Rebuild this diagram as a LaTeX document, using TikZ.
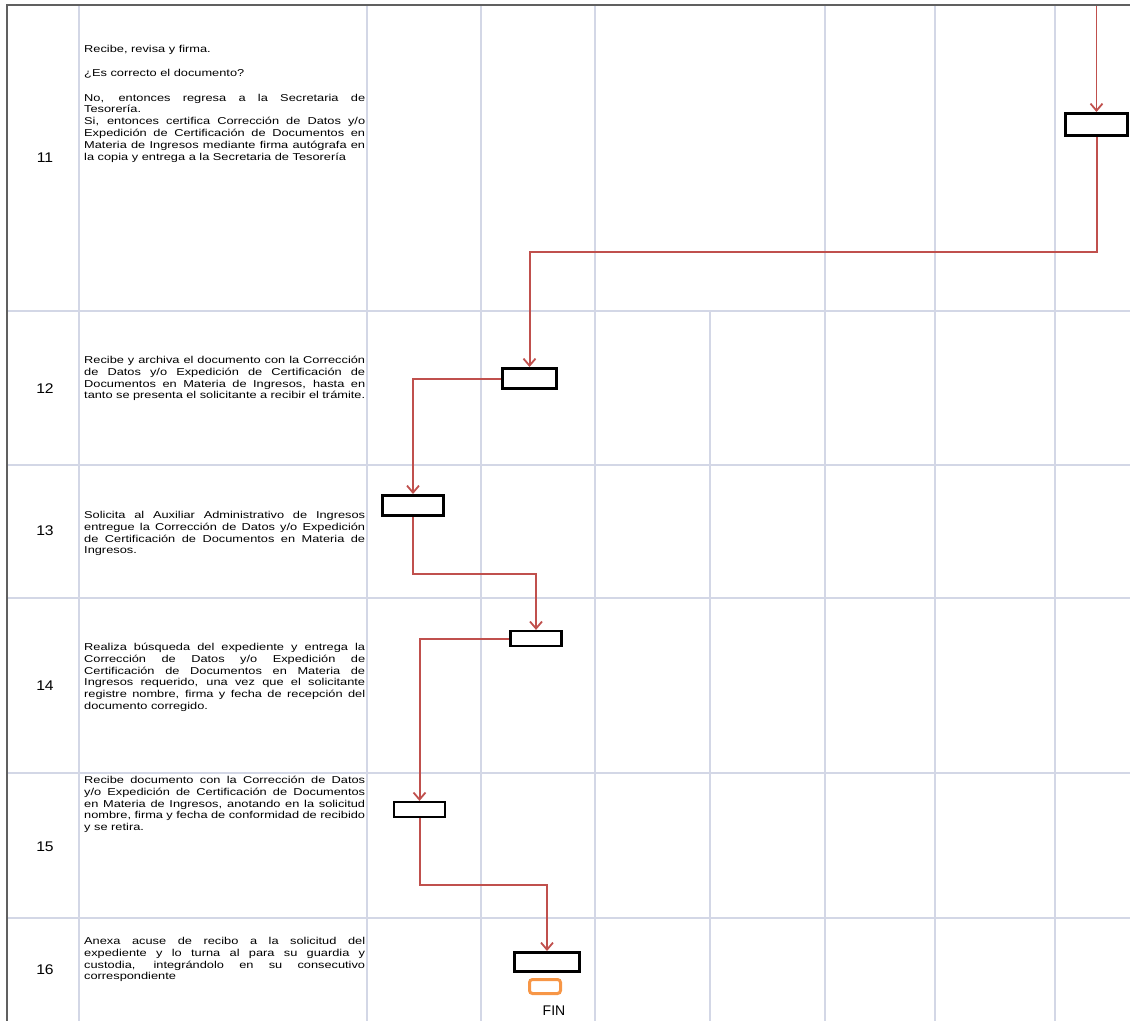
\documentclass[tikz,border=0pt]{standalone}
\usepackage{fontspec}
\setmainfont{Liberation Sans}
\usepackage{tikz}
\usetikzlibrary{arrows.meta}

\definecolor{rejilla}{RGB}{211,215,230}
\definecolor{rojoFlecha}{RGB}{192,80,77}
\definecolor{naranjaFin}{RGB}{247,150,70}
\definecolor{borde}{RGB}{96,96,96}

\newcommand{\textoFila}[1]{\scalebox{1.28}[1]{\parbox[t]{219.5pt}{\fontsize{10}{11.8}\selectfont
    \hyphenpenalty=10000\exhyphenpenalty=10000\relax #1}}}

\begin{document}
\begin{tikzpicture}[x=1pt,y=-1pt,
    caja/.style={draw=black,line width=3pt,fill=white,inner sep=0pt},
    flecha/.style={draw=rojoFlecha,line width=2pt,-{Straight Barb[length=7pt,width=12pt,line width=1.8pt]}},
    texto/.style={anchor=north west,inner sep=0pt},
    numero/.style={font=\fontsize{14}{16}\selectfont}]
    \useasboundingbox (0,0) rectangle (1130,1021);

    \foreach \y in {311,465,598,773,918}
        \draw[rejilla,line width=1.5pt](7,\y)--(1130,\y);
    \foreach \x in {79,367,481,595,825,935,1055}
        \draw[rejilla,line width=1.5pt](\x,5)--(\x,1021);
    \draw[rejilla,line width=1.5pt](710,311)--(710,1021);
    \draw[borde,line width=2pt](6,5)--(1130,5);
    \draw[borde,line width=2pt](7,5)--(7,1021);

    \node[numero](n11) at (45,158){\scalebox{1.12}[1]{11}};
    \node[numero](n12) at (45,389){\scalebox{1.12}[1]{12}};
    \node[numero](n13) at (45,531){\scalebox{1.12}[1]{13}};
    \node[numero](n14) at (45,686){\scalebox{1.12}[1]{14}};
    \node[numero](n15) at (45,847){\scalebox{1.12}[1]{15}};
    \node[numero](n16) at (45,970){\scalebox{1.12}[1]{16}};

    \node[texto](t11) at (84,45){\textoFila{Recibe, revisa y firma.\par\vspace{12.5pt}
        ¿Es correcto el documento?\par\vspace{12.5pt}
        No, entonces regresa a la Secretaria de\linebreak Tesorería.\par
        Si, entonces certifica Corrección de Datos y/o\linebreak Expedición de Certificación de Documentos en\linebreak Materia de Ingresos mediante firma autógrafa en\linebreak la copia y entrega a la Secretaria de Tesorería}};
    \node[texto](t12) at (84,356){\textoFila{Recibe y archiva el documento con la Corrección\linebreak de Datos y/o Expedición de Certificación de\linebreak Documentos en Materia de Ingresos, hasta en\linebreak tanto se presenta el solicitante a recibir el trámite.}};
    \node[texto](t13) at (84,511){\textoFila{Solicita al Auxiliar Administrativo de Ingresos\linebreak entregue la Corrección de Datos y/o Expedición\linebreak de Certificación de Documentos en Materia de\linebreak Ingresos.}};
    \node[texto](t14) at (84,643){\textoFila{Realiza búsqueda del expediente y entrega la\linebreak Corrección de Datos y/o Expedición de\linebreak Certificación de Documentos en Materia de\linebreak Ingresos requerido, una vez que el solicitante\linebreak registre nombre, firma y fecha de recepción del\linebreak documento corregido.}};
    \node[texto](t15) at (84,776){\textoFila{Recibe documento con la Corrección de Datos\linebreak y/o Expedición de Certificación de Documentos\linebreak en Materia de Ingresos, anotando en la solicitud\linebreak nombre, firma y fecha de conformidad de recibido\linebreak y se retira.}};
    \node[texto](t16) at (84,937){\textoFila{Anexa acuse de recibo a la solicitud del\linebreak expediente y lo turna al para su guardia y\linebreak custodia, integrándolo en su consecutivo\linebreak correspondiente}};

    \node[caja,minimum width=62pt,minimum height=22pt](c11) at (1096.5,124.5){};
    \node[caja,minimum width=54pt,minimum height=20pt](c12) at (529.5,378.5){};
    \node[caja,minimum width=61pt,minimum height=20pt](c13) at (413,505.5){};
    \node[caja,line width=2.2pt,minimum width=51pt,minimum height=15pt](c14) at (536,638.5){};
    \node[caja,line width=2.2pt,minimum width=51pt,minimum height=15pt](c15) at (419.5,809.5){};
    \node[caja,minimum width=65pt,minimum height=19pt](c16) at (547,962){};
    \node[draw=naranjaFin,line width=3pt,rounded corners=3pt,inner sep=0pt,
        minimum width=31pt,minimum height=14pt](fin) at (545,986.5){};
    \node[font=\fontsize{14}{16}\selectfont](tfin) at (554,1011){FIN};

    \coordinate(inicio) at (1096.5,6);
    \draw[flecha,line width=1.3pt](inicio)--(c11.north);
    \draw[flecha](c11.south)--(c11.south |- 0,252)-|(c12.north);
    \draw[flecha](c12.west)-|(c13.north);
    \draw[flecha](c13.south)--(c13.south |- 0,574)-|(c14.north);
    \draw[flecha](c14.west)-|(c15.north);
    \draw[flecha](c15.south)--(c15.south |- 0,885)-|(c16.north);
\end{tikzpicture}
\end{document}
